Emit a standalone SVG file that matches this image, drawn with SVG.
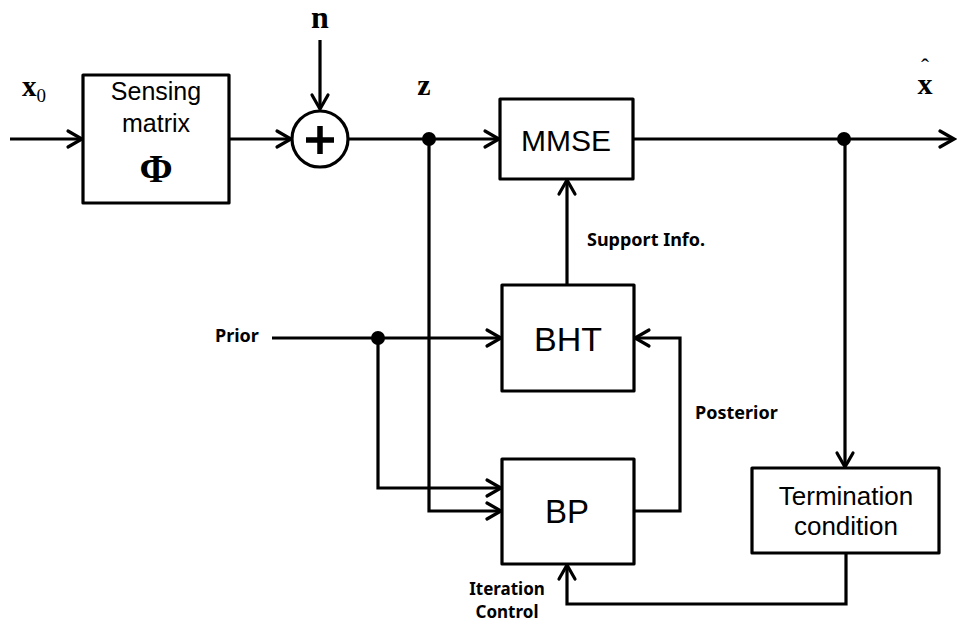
<svg xmlns="http://www.w3.org/2000/svg" width="957" height="628" viewBox="0 0 957 628">
<style>
.box{fill:#fff;stroke:#000;stroke-width:3.2;stroke-linejoin:round}
.ln{fill:none;stroke:#000;stroke-width:3.2;stroke-linejoin:miter}
.t{font-family:"Liberation Sans",Arial,sans-serif;fill:#000;text-anchor:middle}
.lb{font-family:"Noto Sans","Open Sans",sans-serif;font-weight:bold;font-size:18px;fill:#000}
.m{font-family:"Liberation Serif","Times New Roman",serif;font-weight:bold;fill:#000;text-anchor:middle}
</style>
<defs>
<marker id="ar" markerUnits="userSpaceOnUse" markerWidth="18" markerHeight="20" refX="15" refY="9" orient="auto" overflow="visible">
<path d="M1,1 L15,9 L1,17" fill="none" stroke="#000" stroke-width="3.2" stroke-linecap="round" stroke-linejoin="miter"/>
</marker>
</defs>
<rect width="957" height="628" fill="#fff"/>
<g id="connectors">
<line class="ln" x1="10" y1="139" x2="82" y2="139" marker-end="url(#ar)"/>
<line class="ln" x1="229" y1="139" x2="291" y2="139" marker-end="url(#ar)"/>
<line class="ln" x1="320" y1="40" x2="320" y2="109" marker-end="url(#ar)"/>
<line class="ln" x1="349" y1="139" x2="499" y2="139" marker-end="url(#ar)"/>
<line class="ln" x1="633" y1="139" x2="954" y2="139" marker-end="url(#ar)"/>
<circle cx="429" cy="139" r="7" fill="#000"/>
<circle cx="844" cy="139" r="7" fill="#000"/>
<polyline class="ln" points="429,139 429,511 501,511" marker-end="url(#ar)"/>
<line class="ln" x1="845" y1="139" x2="845" y2="467" marker-end="url(#ar)"/>
<line class="ln" x1="567" y1="285" x2="567" y2="180" marker-end="url(#ar)"/>
<line class="ln" x1="272" y1="338" x2="501" y2="338" marker-end="url(#ar)"/>
<circle cx="378" cy="338" r="7" fill="#000"/>
<polyline class="ln" points="378,338 378,488 501,488" marker-end="url(#ar)"/>
<polyline class="ln" points="634,511 680,511 680,338 635,338" marker-end="url(#ar)"/>
<polyline class="ln" points="846,553 846,604 567,604 567,565" marker-end="url(#ar)"/>
<text class="lb" x="587" y="246">Support Info.</text>
<text class="lb" x="215" y="342">Prior</text>
<text class="lb" x="695" y="419">Posterior</text>
<text class="lb" x="507" y="595" style="text-anchor:middle;font-size:17px">Iteration</text>
<text class="lb" x="507" y="618" style="text-anchor:middle;font-size:17px">Control</text>
</g>
<g id="x0">
<text class="m" x="22" y="96" font-size="29" style="text-anchor:start">x<tspan style="font-weight:normal" font-size="19" dy="6">0</tspan></text>
</g>
<g id="sensing">
<rect class="box" x="83" y="75" width="146" height="128"/>
<text class="t" x="156" y="100" font-size="25">Sensing</text>
<text class="t" x="156" y="132" font-size="25">matrix</text>
<text class="m" x="156" y="182" font-size="40">Φ</text>
</g>
<g id="n">
<text class="m" x="320" y="28" font-size="32">n</text>
</g>
<g id="sum">
<circle cx="320" cy="139" r="28" fill="#fff" stroke="#000" stroke-width="3.2"/>
<path d="M306,140 H334 M320,126 V154" stroke="#000" stroke-width="5.5" fill="none"/>
</g>
<g id="z">
<text class="m" x="424" y="95" font-size="30">z</text>
</g>
<g id="xhat">
<text class="m" font-size="30"><tspan x="925" y="94">x</tspan><tspan x="925" y="75" font-size="24" style="font-weight:normal">ˆ</tspan></text>
</g>
<g id="mmse">
<rect class="box" x="500" y="99" width="133" height="80"/>
<text class="t" x="566" y="151" font-size="30">MMSE</text>
</g>
<g id="bht">
<rect class="box" x="502" y="285" width="132" height="106"/>
<text class="t" x="568" y="351" font-size="34">BHT</text>
</g>
<g id="bp">
<rect class="box" x="502" y="459" width="132" height="105"/>
<text class="t" x="567" y="523" font-size="33">BP</text>
</g>
<g id="term">
<rect class="box" x="752" y="468" width="187" height="85"/>
<text class="t" x="846" y="505" font-size="26">Termination</text>
<text class="t" x="846" y="535" font-size="26">condition</text>
</g>
</svg>
